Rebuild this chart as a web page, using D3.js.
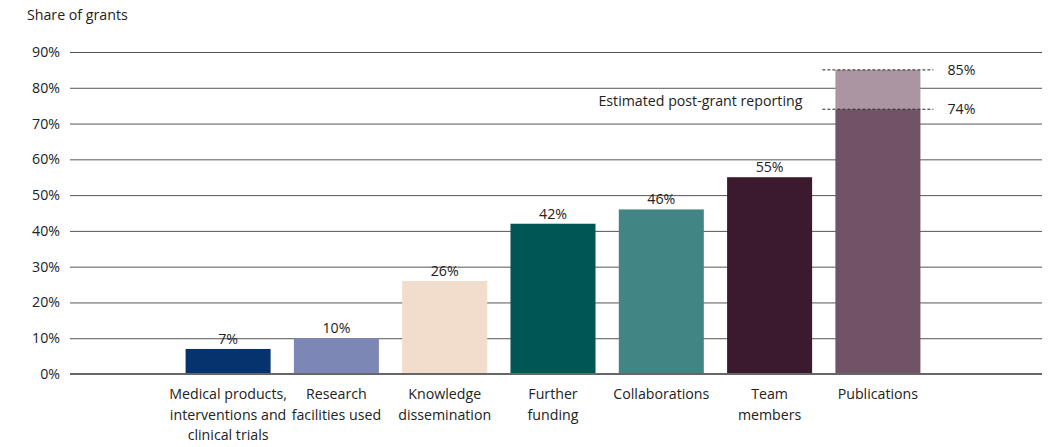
<!DOCTYPE html>
<html>
<head>
<meta charset="utf-8">
<script src="https://cdn.jsdelivr.net/npm/d3@7"></script>
<style>
body { margin: 0; background: #fff; }
text { font-family: "Open Sans", "Noto Sans", sans-serif; fill: #222; }
</style>
</head>
<body>
<script>
// data
var categories = ["Medical products,|interventions and|clinical trials", "Research|facilities used", "Knowledge|dissemination", "Further|funding", "Collaborations", "Team|members", "Publications"];
var values = [7, 10, 26, 42, 46, 55, 74];
var estimated = [null, null, null, null, null, null, 85];
var colors = ["#06336e", "#7d87b5", "#f2dccc", "#005555", "#418685", "#3c1a2e", "#715366"];
var estColor = "#ab95a3";
var yTicks = [0, 10, 20, 30, 40, 50, 60, 70, 80, 90];

var width = 1050, height = 447;
var fs = "14.2px";
var svg = d3.select("body").append("svg")
  .attr("width", width)
  .attr("height", height);

var x = d3.scaleBand()
  .domain(categories)
  .range([67, 1039])
  .paddingInner(0.215)
  .paddingOuter(1.095);

var y = d3.scaleLinear()
  .domain([0, 90])
  .range([374, 52]);

// axis title
svg.append("text")
  .attr("x", 27)
  .attr("y", 20)
  .style("font-size", fs)
  .text("Share of grants");

// gridlines + tick labels
var yAxis = svg.append("g")
  .attr("transform", "translate(70,0)")
  .call(d3.axisLeft(y).tickValues(yTicks).tickSize(-972).tickPadding(10).tickFormat(function(d){ return d + "%"; }));
yAxis.select(".domain").remove();
yAxis.selectAll(".tick line")
  .attr("stroke", "#555")
  .attr("stroke-width", function(d){ return d === 0 ? 0 : 1; });
yAxis.selectAll(".tick text")
  .style("font-size", fs)
  .style("font-family", "'Open Sans', 'Noto Sans', sans-serif")
  .attr("fill", "#222");

// estimated part of bars
svg.selectAll("rect.est")
  .data(estimated.map(function(v, i){ return {v: v, c: categories[i], base: values[i]}; }).filter(function(d){ return d.v !== null; }))
  .enter().append("rect")
  .attr("class", "est")
  .attr("x", function(d){ return x(d.c); })
  .attr("width", x.bandwidth())
  .attr("y", function(d){ return y(d.v); })
  .attr("height", function(d){ return y(d.base) - y(d.v); })
  .attr("fill", estColor);

// bars
svg.selectAll("rect.bar")
  .data(values)
  .enter().append("rect")
  .attr("class", "bar")
  .attr("x", function(d, i){ return x(categories[i]); })
  .attr("width", x.bandwidth())
  .attr("y", function(d){ return y(d); })
  .attr("height", function(d){ return y(0) - y(d); })
  .attr("fill", function(d, i){ return colors[i]; });

// baseline
svg.append("line")
  .attr("x1", 70).attr("x2", 1042)
  .attr("y1", y(0)).attr("y2", y(0))
  .attr("stroke", "#666")
  .attr("stroke-width", 2);

// value labels (skip the bar with an estimate, it gets side labels)
svg.selectAll("text.val")
  .data(values)
  .enter().append("text")
  .filter(function(d, i){ return estimated[i] === null; })
  .attr("x", function(d, i){ return x(categories[i]) + x.bandwidth() / 2; })
  .attr("y", function(d){ return y(d) - 5; })
  .attr("text-anchor", "middle")
  .style("font-size", fs)
  .text(function(d){ return d + "%"; });

// dashed marker lines for the publications bar
estimated.forEach(function(v, i){
  if (v === null) return;
  var bx = x(categories[i]);
  [v, values[i]].forEach(function(val){
    svg.append("line")
      .attr("x1", bx - 13).attr("x2", bx + x.bandwidth() + 13)
      .attr("y1", y(val)).attr("y2", y(val))
      .attr("stroke", "#222")
      .attr("stroke-width", 1)
      .attr("stroke-dasharray", "3,2");
    svg.append("text")
      .attr("x", bx + x.bandwidth() + 27)
      .attr("y", y(val) + 5)
      .style("font-size", fs)
      .text(val + "%");
  });
  svg.append("text")
    .attr("x", bx - 33)
    .attr("y", y((v + values[i]) / 2) + 16)
    .attr("text-anchor", "end")
    .style("font-size", fs)
    .text("Estimated post-grant reporting");
});

// category labels
categories.forEach(function(c){
  var lines = c.split("|");
  var t = svg.append("text")
    .attr("x", x(c) + x.bandwidth() / 2)
    .attr("y", 399)
    .attr("text-anchor", "middle")
    .style("font-size", fs);
  lines.forEach(function(l, j){
    t.append("tspan")
      .attr("x", x(c) + x.bandwidth() / 2)
      .attr("dy", j === 0 ? 0 : 20.5)
      .text(l);
  });
});
</script>
</body>
</html>
